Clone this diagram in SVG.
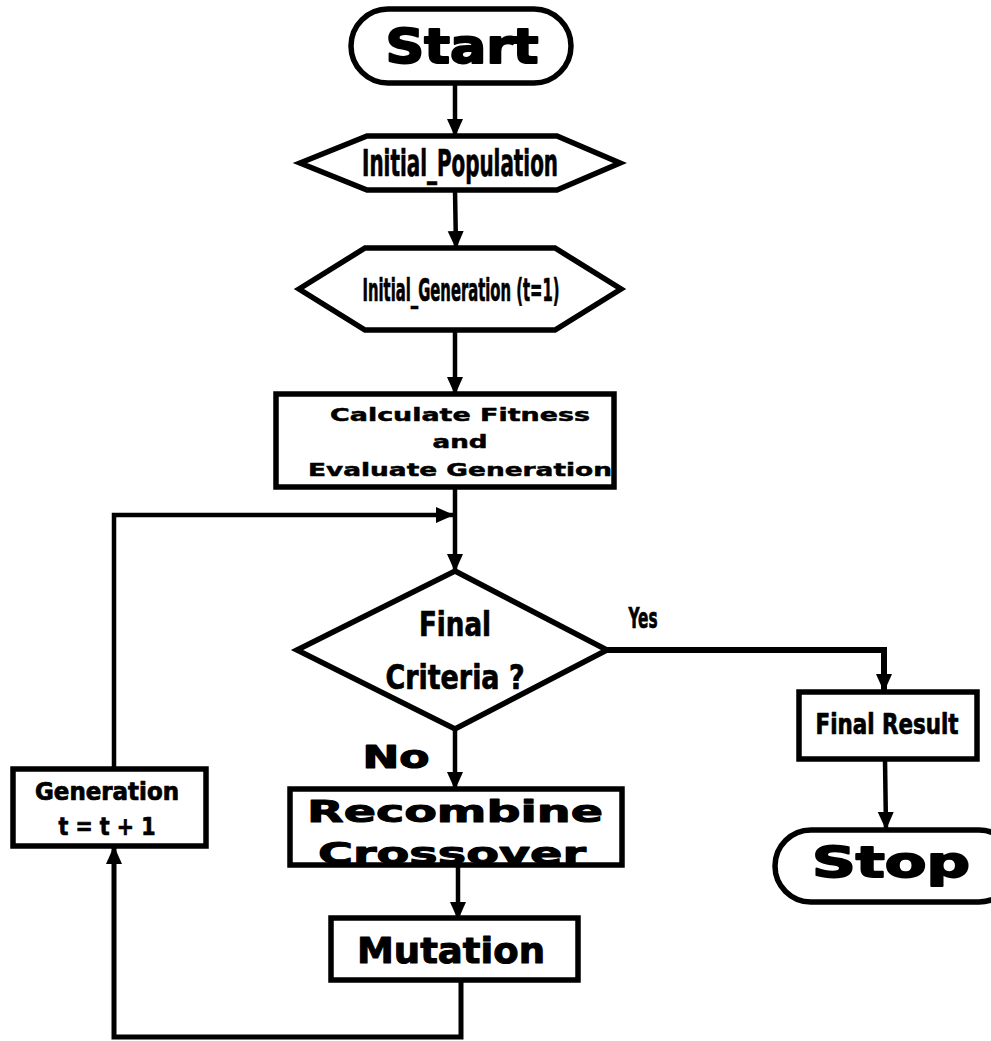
<svg xmlns="http://www.w3.org/2000/svg" width="991" height="1041" viewBox="0 0 991 1041">
<style>
.shape{fill:#fff;stroke:#000;stroke-width:5.5;stroke-linejoin:miter}
.wide{font-family:"DejaVu Sans","Liberation Sans",sans-serif;font-weight:bold;fill:#000;stroke:#000;stroke-width:0.8;stroke-linejoin:round}
.narrow{font-family:"DejaVu Sans Condensed","Liberation Sans Narrow","Liberation Sans",sans-serif;font-weight:bold;fill:#000;stroke:#000;stroke-width:0.7;stroke-linejoin:round}
.conn{fill:none;stroke:#000;stroke-width:4.5}
</style>
<defs>
<marker id="arr" markerUnits="userSpaceOnUse" markerWidth="18" markerHeight="18" refX="17" refY="8" orient="auto">
<path d="M0,0 L18,8 L0,16 Z" fill="#000"/>
</marker>
</defs>
<g id="connectors">
<line class="conn" x1="455" y1="84" x2="455" y2="136" marker-end="url(#arr)"/>
<line class="conn" x1="455" y1="190" x2="456" y2="248" marker-end="url(#arr)"/>
<line class="conn" x1="455" y1="330" x2="455" y2="394" marker-end="url(#arr)"/>
<line class="conn" x1="455" y1="487" x2="455" y2="571" marker-end="url(#arr)"/>
<polyline class="conn" points="114,768 114,515 453,515" marker-end="url(#arr)"/>
<polyline class="conn" points="607,650 884,650 884,691" style="stroke-width:6" marker-end="url(#arr)"/>
<line class="conn" x1="455" y1="730" x2="455" y2="789" marker-end="url(#arr)"/>
<line class="conn" x1="458" y1="865" x2="458" y2="919" marker-end="url(#arr)"/>
<polyline class="conn" points="461,980 461,1037 114,1037 114,847" style="stroke-width:5" marker-end="url(#arr)"/>
<line class="conn" x1="885" y1="760" x2="886" y2="829" marker-end="url(#arr)"/>
</g>
<g id="start">
<rect class="shape" x="351" y="9" width="220" height="74" rx="37"/>
<text class="wide" x="462" y="63" font-size="48" text-anchor="middle" textLength="153" lengthAdjust="spacingAndGlyphs" style="stroke-width:2">Start</text>
</g>
<g id="initial_population">
<polygon class="shape" points="300,163 367,136 557,136 620,163 557,190 367,190"/>
<text class="narrow" x="460" y="176" font-size="38" text-anchor="middle" textLength="196" lengthAdjust="spacingAndGlyphs">Initial_Population</text>
</g>
<g id="initial_generation">
<polygon class="shape" points="299,289 365,248 555,248 621,289 555,330 365,330"/>
<text class="narrow" x="461" y="301" font-size="32" text-anchor="middle" textLength="197" lengthAdjust="spacingAndGlyphs">Initial_Generation (t=1)</text>
</g>
<g id="calculate_fitness">
<rect class="shape" x="276" y="394" width="338" height="93"/>
<text class="wide" x="460" y="421" font-size="18.5" text-anchor="middle" textLength="260" lengthAdjust="spacingAndGlyphs" style="stroke-width:0.5">Calculate Fitness</text>
<text class="wide" x="460" y="448" font-size="18.5" text-anchor="middle" textLength="55" lengthAdjust="spacingAndGlyphs" style="stroke-width:0.5">and</text>
<text class="wide" x="460" y="476" font-size="18.5" text-anchor="middle" textLength="304" lengthAdjust="spacingAndGlyphs" style="stroke-width:0.5">Evaluate Generation</text>
</g>
<g id="final_criteria">
<polygon class="shape" points="455,571 607,650 455,729 297,650"/>
<text class="narrow" x="455" y="636" font-size="34" text-anchor="middle" textLength="72" lengthAdjust="spacingAndGlyphs">Final</text>
<text class="narrow" x="455" y="689" font-size="34" text-anchor="middle" textLength="139" lengthAdjust="spacingAndGlyphs">Criteria ?</text>
</g>
<text class="narrow" x="643" y="628" font-size="29" text-anchor="middle" textLength="29" lengthAdjust="spacingAndGlyphs">Yes</text>
<text class="wide" x="396" y="768" font-size="32" text-anchor="middle" textLength="67" lengthAdjust="spacingAndGlyphs" style="stroke-width:1.2">No</text>
<g id="final_result">
<rect class="shape" x="799" y="692" width="178" height="67"/>
<text class="narrow" x="887" y="734" font-size="29" text-anchor="middle" textLength="143" lengthAdjust="spacingAndGlyphs">Final Result</text>
</g>
<g id="stop">
<rect class="shape" x="775" y="830" width="240" height="72" rx="36"/>
<text class="wide" x="891" y="877" font-size="42" text-anchor="middle" textLength="158" lengthAdjust="spacingAndGlyphs" style="stroke-width:1.8">Stop</text>
</g>
<g id="recombine">
<rect x="290" y="789" width="332" height="76" fill="#fff"/>
<text class="wide" x="455" y="822" font-size="30" text-anchor="middle" textLength="296" lengthAdjust="spacingAndGlyphs" style="stroke-width:1">Recombine</text>
<text class="wide" x="452" y="864" font-size="30" text-anchor="middle" textLength="268" lengthAdjust="spacingAndGlyphs" style="stroke-width:1">Crossover</text>
<rect class="shape" x="290" y="789" width="332" height="76" style="fill:none"/>
</g>
<g id="mutation">
<rect class="shape" x="331" y="918" width="247" height="62"/>
<text class="wide" x="451" y="963" font-size="35" text-anchor="middle" textLength="188" lengthAdjust="spacingAndGlyphs" style="stroke-width:1">Mutation</text>
</g>
<g id="generation">
<rect class="shape" x="13" y="769" width="193" height="77"/>
<text class="narrow" x="107" y="800" font-size="24" text-anchor="middle" textLength="144" lengthAdjust="spacingAndGlyphs">Generation</text>
<text class="narrow" x="107" y="835" font-size="24" text-anchor="middle" textLength="97" lengthAdjust="spacingAndGlyphs">t = t + 1</text>
</g>
</svg>
